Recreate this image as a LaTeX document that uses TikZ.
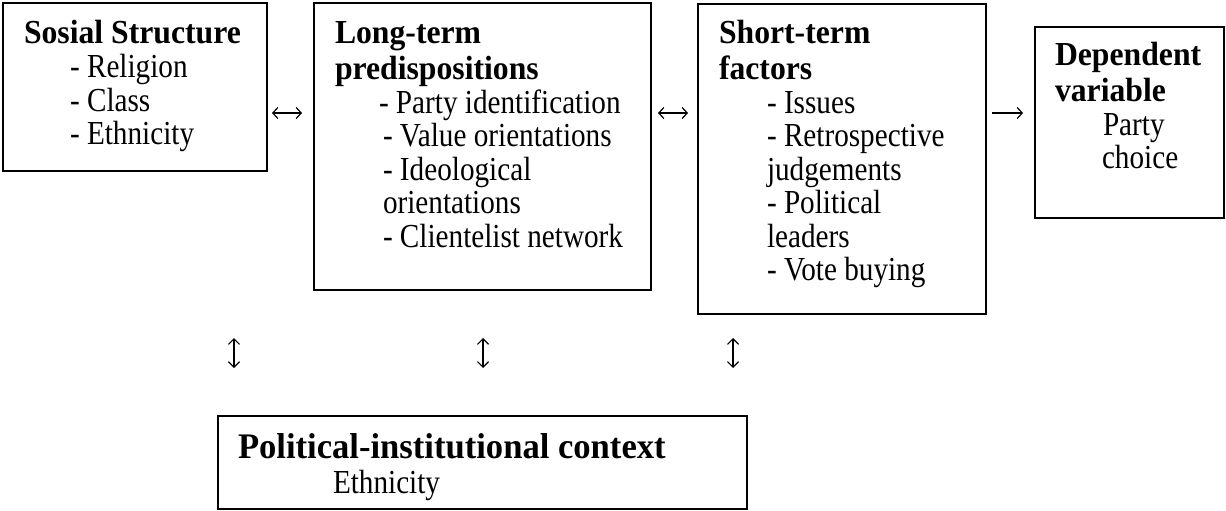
\documentclass[tikz,border=0pt]{standalone}
\usepackage{fontspec}
\usepackage{graphicx}
\setmainfont{Liberation Serif}
\usetikzlibrary{arrows.meta}
\newcommand{\hdf}{\fontsize{31.7}{33.5}\selectfont\bfseries}
\newcommand{\hd}[1]{\scalebox{1}[1.06]{\hdf #1}}
\newcommand{\li}[1]{\scalebox{1}[1.15]{#1}}
\begin{document}
\begin{tikzpicture}[x=1pt,y=-1pt,
  boxst/.style={draw, line width=1.6pt, rectangle, inner sep=0pt, outer sep=0pt, anchor=north west},
  txt/.style={anchor=north west, inner sep=0pt, outer sep=0pt, align=left, font=\fontsize{29.2}{33.5}\selectfont},
  harrow/.style={line width=1.2pt, {Straight Barb[length=5pt,width=11pt]}-{Straight Barb[length=5pt,width=11pt]}},
  rarrow/.style={line width=1.2pt, -{Straight Barb[length=5pt,width=11pt]}},
  varrow/.style={line width=1.2pt, {Straight Barb[length=5.5pt,width=11pt]}-{Straight Barb[length=5.5pt,width=11pt]}}
]
\useasboundingbox[fill=white] (0,0) rectangle (1226,511);

% boxes
\node[boxst, minimum width=264pt, minimum height=168pt] (b1) at (3,3) {};
\node[boxst, minimum width=337pt, minimum height=287pt] (b2) at (314,3) {};
\node[boxst, minimum width=288pt, minimum height=310pt] (b3) at (698,4) {};
\node[boxst, minimum width=189pt, minimum height=191pt] (b4) at (1035,27) {};
\node[boxst, minimum width=529pt, minimum height=93pt] (b5) at (218,416) {};

% texts
\node[txt] (t1) at (24,19) {\rule{0pt}{25pt}\hd{Sosial Structure}\\
  \hspace*{46pt}\li{- Religion}\\
  \hspace*{46pt}\li{- Class}\\
  \hspace*{46pt}\li{- Ethnicity}};
\node[txt] (t2) at (335,18) {\rule{0pt}{25pt}\hd{Long-term}\\[3.3pt]
  \hd{predispositions}\\
  \hspace*{44pt}\li{- Party identification}\\
  \hspace*{48pt}\li{- Value orientations}\\
  \hspace*{48pt}\li{- Ideological}\\
  \hspace*{48pt}\li{orientations}\\
  \hspace*{48pt}\li{- Clientelist network}};
\node[txt] (t3) at (719,18) {\rule{0pt}{25pt}\hd{Short-term}\\[3.3pt]
  \hd{factors}\\
  \hspace*{48pt}\li{- Issues}\\
  \hspace*{48pt}\li{- Retrospective}\\
  \hspace*{48pt}\li{judgements}\\
  \hspace*{48pt}\li{- Political}\\
  \hspace*{48pt}\li{leaders}\\
  \hspace*{48pt}\li{- Vote buying}};
\node[txt] (t4) at (1055,40) {\rule{0pt}{25pt}\hd{Dependent}\\[3.3pt]
  \hd{variable}\\
  \hspace*{48pt}\li{Party}\\
  \hspace*{47pt}\li{choice}};
\node[txt, font=\fontsize{29.2}{35}\selectfont] (t5) at (238,431) {\rule{0pt}{27pt}\scalebox{1}[1.04]{\fontsize{34.6}{35}\selectfont\bfseries Political-institutional context}\\
  \hspace*{95pt}\li{Ethnicity}};

% arrow end points
\coordinate (a1s) at (272,113); \coordinate (a1e) at (302,113);
\coordinate (a2s) at (658,113); \coordinate (a2e) at (688,113);
\coordinate (a3s) at (992,113); \coordinate (a3e) at (1023,113);
\coordinate (v1s) at (234,338); \coordinate (v1e) at (234,368);
\coordinate (v2s) at (483,338); \coordinate (v2e) at (483,368);
\coordinate (v3s) at (733,338); \coordinate (v3e) at (733,368);

\draw[harrow] (a1s) -- (a1e);
\draw[harrow] (a2s) -- (a2e);
\draw[rarrow] (a3s) -- (a3e);
\draw[varrow] (v1s) -- (v1e);
\draw[varrow] (v2s) -- (v2e);
\draw[varrow] (v3s) -- (v3e);
\end{tikzpicture}
\end{document}
